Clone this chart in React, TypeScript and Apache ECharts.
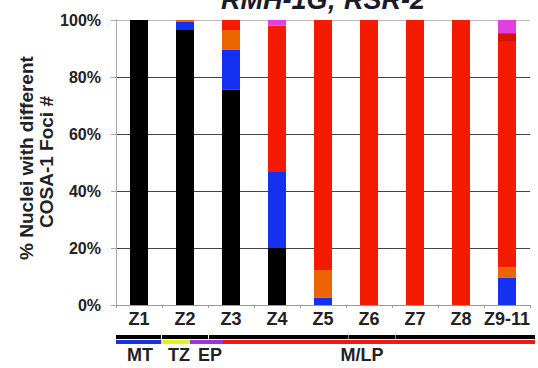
import React, { useEffect, useRef } from "react";
import * as echarts from "echarts";

const categories = ["Z1", "Z2", "Z3", "Z4", "Z5", "Z6", "Z7", "Z8", "Z9-11"];
const yTicks = ["0%", "20%", "40%", "60%", "80%", "100%"];
const blackVals = [100, 96.5, 75.5, 20, 0, 0, 0, 0, 0];
const blueVals = [0, 3, 14, 26.7, 2.5, 0, 0, 0, 9.5];
const orangeVals = [0, 0.5, 7, 0, 9.8, 0, 0, 0, 3.8];
const redVals = [0, 0, 3.5, 51.3, 87.7, 100, 100, 100, 79];
const darkRedVals = [0, 0, 0, 0, 0, 0, 0, 0, 3.1];
const magentaVals = [0, 0, 0, 2, 0, 0, 0, 0, 4.6];
const stageLabels = ["MT", "TZ", "EP", "M/LP"];
const yNameLines = ["% Nuclei with different", "COSA-1 Foci #"];

const seriesDefs = [
  { name: "black", data: blackVals, color: "#000000" },
  { name: "blue", data: blueVals, color: "#1530f0" },
  { name: "orange", data: orangeVals, color: "#ec6400" },
  { name: "red", data: redVals, color: "#f41a00" },
  { name: "darkred", data: darkRedVals, color: "#d81200" },
  { name: "magenta", data: magentaVals, color: "#e040e0" },
];

export default function App() {
  const ref = useRef<HTMLDivElement>(null);
  useEffect(() => {
    if (!ref.current) return;
    const chart = echarts.init(ref.current, undefined, { renderer: "svg" });
    const font = "Liberation Sans, Arial, sans-serif";
    const labelStyle = { fontFamily: font, fontWeight: "bold" as const, fontSize: 18, fill: "#222" };
    const nameStyle = { fontFamily: font, fontWeight: "bold" as const, fontSize: 19, fill: "#222", align: "center" as const, verticalAlign: "middle" as const };
    chart.setOption({
      animation: false,
      backgroundColor: "#ffffff",
      grid: { left: 116, right: 8, top: 20, bottom: 63 },
      xAxis: {
        type: "category",
        data: categories,
        axisLine: { show: true, lineStyle: { color: "#999", width: 1 } },
        axisTick: { show: true, length: 3, lineStyle: { color: "#999" } },
        axisLabel: {
          interval: 0,
          fontFamily: font,
          fontWeight: "bold",
          fontSize: 18,
          color: "#222",
          margin: 5,
        },
      },
      yAxis: {
        type: "value",
        min: 0,
        max: 100,
        interval: 20,
        axisLine: { show: true, lineStyle: { color: "#aaa", width: 1 } },
        axisTick: { show: true, length: 5, lineStyle: { color: "#aaa" } },
        axisLabel: {
          fontFamily: font,
          fontWeight: "bold",
          fontSize: 16,
          color: "#222",
          margin: 15,
          formatter: (v: number) => yTicks[Math.round(v / 20)],
        },
        splitLine: {
          show: true,
          lineStyle: { color: ["#999", "#444", "#444", "#444", "#444", "#bbb"], width: 1 },
        },
      },
      series: seriesDefs.map((s) => ({
        name: s.name,
        type: "bar",
        stack: "total",
        data: s.data,
        barWidth: 18,
        itemStyle: { color: s.color },
      })),
      graphic: [
        {
          type: "text",
          left: 221,
          top: -14,
          style: {
            text: "RMH-1G; RSR-2",
            fontFamily: font,
            fontWeight: "bold",
            fontStyle: "italic",
            fontSize: 27,
            fill: "#1a1a2a",
          },
        },
        { type: "text", x: 26, y: 158, rotation: Math.PI / 2, style: { ...nameStyle, text: yNameLines[0] } },
        { type: "text", x: 46, y: 162, rotation: Math.PI / 2, style: { ...nameStyle, text: yNameLines[1] } },
        { type: "rect", shape: { x: 116, y: 335, width: 419, height: 4 }, style: { fill: "#000" } },
        { type: "rect", shape: { x: 116, y: 340, width: 45, height: 4 }, style: { fill: "#1a2ef0" } },
        { type: "rect", shape: { x: 161, y: 340, width: 29, height: 4 }, style: { fill: "#e8f020" } },
        { type: "rect", shape: { x: 190, y: 340, width: 33, height: 4 }, style: { fill: "#a030e0" } },
        { type: "rect", shape: { x: 223, y: 340, width: 312, height: 4 }, style: { fill: "#f01818" } },
        { type: "rect", shape: { x: 161, y: 335, width: 1, height: 4 }, style: { fill: "#fff" } },
        { type: "rect", shape: { x: 208, y: 335, width: 1, height: 4 }, style: { fill: "#fff" } },
        { type: "rect", shape: { x: 348, y: 335, width: 1, height: 4 }, style: { fill: "#888" } },
        { type: "rect", shape: { x: 395, y: 335, width: 1, height: 4 }, style: { fill: "#888" } },
        { type: "text", x: 140, y: 355, style: { ...labelStyle, text: stageLabels[0], align: "center", verticalAlign: "middle" } },
        { type: "text", x: 179, y: 355, style: { ...labelStyle, text: stageLabels[1], align: "center", verticalAlign: "middle" } },
        { type: "text", x: 210, y: 355, style: { ...labelStyle, text: stageLabels[2], align: "center", verticalAlign: "middle" } },
        { type: "text", x: 362, y: 355, style: { ...labelStyle, text: stageLabels[3], align: "center", verticalAlign: "middle" } },
      ],
    });
    return () => chart.dispose();
  }, []);
  return (
    <div
      ref={ref}
      style={{ position: "fixed", left: 0, top: 0, width: 538, height: 368 }}
    />
  );
}
